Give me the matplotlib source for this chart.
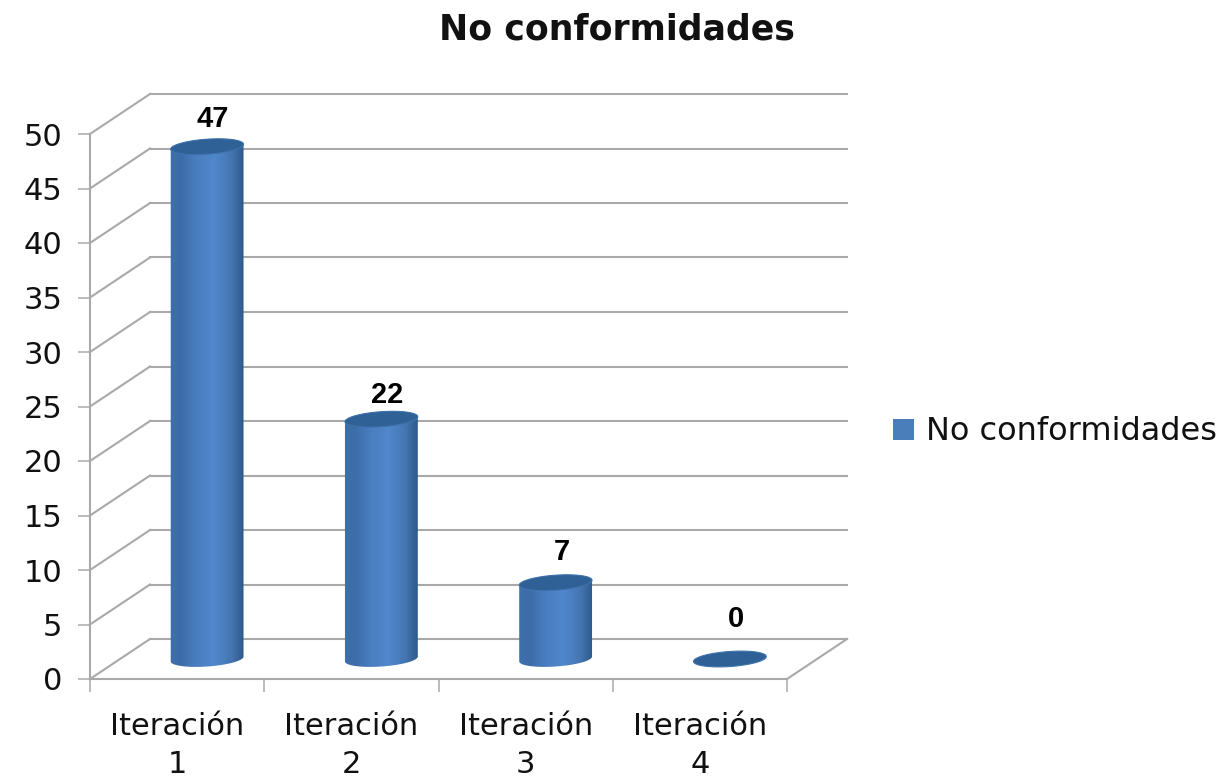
import numpy as np
import matplotlib
matplotlib.use('Agg')
import matplotlib.pyplot as plt
from matplotlib.colors import LinearSegmentedColormap
from matplotlib.patches import Patch, PathPatch, Polygon
from matplotlib.path import Path

# datos del grafico
categorias = ['Iteración\n1', 'Iteración\n2', 'Iteración\n3', 'Iteración\n4']
no_conformidades = [47, 22, 7, 0]
y_ticks = [0, 5, 10, 15, 20, 25, 30, 35, 40, 45, 50]

W, H = 1231, 780
GRID = '#a9a9a9'
TAPA = '#2f6096'

fig = plt.figure(figsize=(W / 100, H / 100), dpi=100, facecolor='white')
# plano frontal del "3D": x 90-787 px, y 134-679 px
ax = fig.add_axes([90 / W, (H - 679) / H, 697 / W, 545 / H])
ax.set_facecolor('none')

px_x = 697 / 4   # px por categoria
px_y = 545 / 50  # px por unidad
# profundidad de la caja
dx = 60 / px_x
dy = 40 / px_y

# paredes: rejilla del fondo y diagonales
for v in y_ticks:
    ax.plot([dx, 4 + dx], [v + dy, v + dy], color=GRID, lw=1.5, clip_on=False, zorder=1)
    ax.plot([0, dx], [v, v + dy], color=GRID, lw=1.5, clip_on=False, zorder=1)
ax.plot([4, 4 + dx], [0, dy], color=GRID, lw=1.5, clip_on=False, zorder=1)


def elipse(cx, cy, a0, a1):
    # arco de elipse un poco inclinada, devuelto en coordenadas de datos
    t = np.radians(np.linspace(a0, a1, 60))
    rx, ry, giro = 36.5, 7.5, np.radians(4)
    x = rx * np.cos(t) * np.cos(giro) - ry * np.sin(t) * np.sin(giro)
    y = rx * np.cos(t) * np.sin(giro) + ry * np.sin(t) * np.cos(giro)
    return np.column_stack([cx + x / px_x, cy + y / px_y])


degradado = LinearSegmentedColormap.from_list('cilindro', [
    (0.0, '#3f70ab'), (0.15, '#3d6da8'), (0.38, '#4a7fc0'), (0.6, '#5088cd'),
    (0.82, '#4676b2'), (1.0, '#2c5787')])

# cilindros
for i, v in enumerate(no_conformidades):
    cx = i + 0.5 + dx / 2
    y0 = dy / 2
    y1 = v + dy / 2
    if v > 0:
        contorno = np.vstack([elipse(cx, y0, 180, 360), elipse(cx, y1, 0, 180)])
        clip = PathPatch(Path(np.vstack([contorno, contorno[:1]])), transform=ax.transData,
                         facecolor='none', edgecolor='none')
        ax.add_patch(clip)
        im = ax.imshow(np.linspace(0, 1, 128).reshape(1, -1), cmap=degradado, aspect='auto',
                       extent=[cx - 38 / px_x, cx + 38 / px_x, y0 - 10 / px_y, y1 + 10 / px_y],
                       zorder=3, clip_on=True)
        im.set_clip_path(clip)
    ax.add_patch(Polygon(elipse(cx, y1, 0, 360), closed=True, facecolor=TAPA,
                         edgecolor='#3f73ad', lw=0.8, clip_on=False, zorder=4))

label_dy = [28, 24, 31, 40]
for i, v in enumerate(no_conformidades):
    ax.annotate(str(v), (i + 0.5 + dx / 2, v + dy / 2), xytext=(6 * 0.72, label_dy[i] * 0.72),
                textcoords='offset points', ha='center', va='center', fontsize=21,
                fontweight='bold', family='Liberation Sans', color='black', zorder=5,
                annotation_clip=False)

ax.set_xlim(0, 4)
ax.set_ylim(0, 50)

for lado in ['top', 'right']:
    ax.spines[lado].set_visible(False)
for lado in ['left', 'bottom']:
    ax.spines[lado].set_color(GRID)
    ax.spines[lado].set_linewidth(1.5)
    ax.spines[lado].set_zorder(2)

ax.set_yticks(y_ticks)
ax.tick_params(axis='y', length=9, width=1.1, color=GRID, labelsize=22, pad=11, labelcolor='#111111')
ax.set_xticks(range(5))
ax.set_xticklabels([])
ax.set_xticks(np.arange(4) + 0.5, categorias, minor=True, linespacing=1.38)
ax.tick_params(axis='x', which='minor', length=0, labelsize=22, pad=24, labelcolor='#111111')
ax.tick_params(axis='x', which='major', length=9, width=1.1, color=GRID)

fig.text(617 / W, (H - 30) / H, 'No conformidades', ha='center', va='center',
         fontsize=25, fontweight='bold', color='#111111')

fig.legend(handles=[Patch(facecolor='#4a7ebb', label='No conformidades')],
           loc='center left', bbox_to_anchor=(864 / W, (H - 432) / H), frameon=False,
           fontsize=23, handlelength=0.65, handleheight=0.65, handletextpad=0.4,
           labelcolor='#111111')

fig.savefig('out.png', dpi=100, facecolor='white')
